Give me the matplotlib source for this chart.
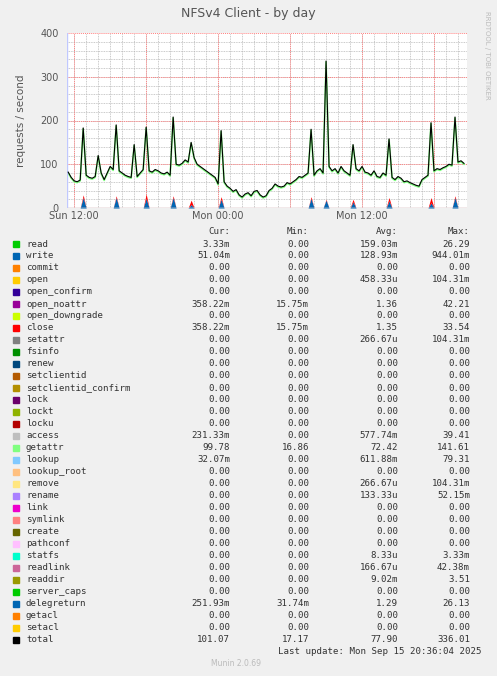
import matplotlib
matplotlib.use("Agg")
import matplotlib.pyplot as plt
import numpy as np

# total requests/s, one value every 15 min starting Sun 11:30
total = [82, 70, 62, 60, 64, 183, 75, 70, 68, 72, 120, 80, 65, 80, 95, 88,
         190, 85, 80, 75, 72, 70, 145, 72, 80, 88, 185, 85, 82, 88, 85, 80,
         78, 82, 75, 208, 100, 98, 102, 110, 105, 150, 115, 100, 95, 90, 85, 80,
         75, 70, 55, 177, 60, 50, 45, 38, 42, 30, 25, 32, 35, 28, 38, 40,
         30, 25, 28, 40, 45, 55, 50, 48, 50, 58, 55, 60, 65, 72, 70, 75,
         80, 180, 75, 85, 90, 80, 336, 95, 85, 90, 80, 95, 85, 80, 75, 145,
         90, 85, 95, 82, 80, 75, 85, 72, 70, 80, 75, 158, 70, 65, 72, 68,
         60, 62, 58, 55, 52, 50, 65, 70, 75, 195, 85, 90, 88, 92, 95, 100,
         98, 208, 105, 108, 102]
# small stacked series near the bottom (write/delegreturn, close)
spike_idx = [5, 16, 26, 35, 41, 51, 81, 86, 95, 107, 121, 129]
spike_write = [24, 24, 22, 24, 8, 20, 22, 18, 14, 16, 12, 24]
spike_close = [6, 4, 10, 4, 10, 6, 4, 2, 6, 8, 12, 4]

names = ["read", "write", "commit", "open", "open_confirm", "open_noattr", "open_downgrade",
         "close", "setattr", "fsinfo", "renew", "setclientid", "setclientid_confirm", "lock",
         "lockt", "locku", "access", "getattr", "lookup", "lookup_root", "remove", "rename",
         "link", "symlink", "create", "pathconf", "statfs", "readlink", "readdir",
         "server_caps", "delegreturn", "getacl", "setacl", "total"]
colors = ["#00CC00", "#0066B3", "#FF8000", "#FFCC00", "#330099", "#990099", "#CCFF00",
          "#FF0000", "#808080", "#008F00", "#00487D", "#B35A00", "#B38F00", "#6B006B",
          "#8FB300", "#B30000", "#BEBEBE", "#80FF80", "#80C9FF", "#FFC080", "#FFE680",
          "#AA80FF", "#EE00CC", "#FF8080", "#666600", "#FFBFFF", "#00FFCC", "#CC6699",
          "#999900", "#00CC00", "#0066B3", "#FF8000", "#FFCC00", "#000000"]
cur = ["3.33m", "51.04m", "0.00", "0.00", "0.00", "358.22m", "0.00", "358.22m", "0.00", "0.00",
       "0.00", "0.00", "0.00", "0.00", "0.00", "0.00", "231.33m", "99.78", "32.07m", "0.00",
       "0.00", "0.00", "0.00", "0.00", "0.00", "0.00", "0.00", "0.00", "0.00", "0.00",
       "251.93m", "0.00", "0.00", "101.07"]
mins = ["0.00", "0.00", "0.00", "0.00", "0.00", "15.75m", "0.00", "15.75m", "0.00", "0.00",
        "0.00", "0.00", "0.00", "0.00", "0.00", "0.00", "0.00", "16.86", "0.00", "0.00",
        "0.00", "0.00", "0.00", "0.00", "0.00", "0.00", "0.00", "0.00", "0.00", "0.00",
        "31.74m", "0.00", "0.00", "17.17"]
avgs = ["159.03m", "128.93m", "0.00", "458.33u", "0.00", "1.36", "0.00", "1.35", "266.67u", "0.00",
        "0.00", "0.00", "0.00", "0.00", "0.00", "0.00", "577.74m", "72.42", "611.88m", "0.00",
        "266.67u", "133.33u", "0.00", "0.00", "0.00", "0.00", "8.33u", "166.67u", "9.02m", "0.00",
        "1.29", "0.00", "0.00", "77.90"]
maxs = ["26.29", "944.01m", "0.00", "104.31m", "0.00", "42.21", "0.00", "33.54", "104.31m", "0.00",
        "0.00", "0.00", "0.00", "0.00", "0.00", "0.00", "39.41", "141.61", "79.31", "0.00",
        "104.31m", "52.15m", "0.00", "0.00", "0.00", "0.00", "3.33m", "42.38m", "3.51", "0.00",
        "26.13", "0.00", "0.00", "336.01"]

bg = "#F0F0F0"
fig = plt.figure(figsize=(4.97, 6.76), dpi=100, facecolor=bg)
W, H = 497, 676
ax = fig.add_axes([67 / W, (H - 208) / H, 400 / W, 175 / H], facecolor="white")

hours = -0.5 + 0.25 * np.arange(len(total))
tot = np.array(total, dtype=float)
write = np.zeros_like(tot)
close = np.zeros_like(tot)
for i, w, c in zip(spike_idx, spike_write, spike_close):
    write[i] = w
    close[i] = c
ax.fill_between(hours, 0, write, color="#0066B3", lw=0, zorder=2)
ax.fill_between(hours, write, write + close, color="#FF0000", lw=0, zorder=2)
ax.plot(hours, tot - 2, color="#80FF80", lw=1.2, zorder=2)
ax.plot(hours, tot, color="black", lw=0.8, zorder=3)
ax.axhline(0.5, color="#FFC080", lw=1, zorder=2)

ax.set_xlim(-0.6, 32.75)
ax.set_ylim(0, 400)
for h in np.arange(0, 33, 1):
    ax.axvline(h, color="#B8B8B8", lw=0.6, ls=(0, (1, 1)), zorder=0)
for y in range(20, 400, 20):
    ax.axhline(y, color="#B8B8B8", lw=0.6, ls=(0, (1, 1)), zorder=0)
for h in [0, 6, 12, 18, 24, 30]:
    ax.axvline(h, color="#FF8080", lw=0.7, ls=(0, (1, 1)), zorder=0.5)
for y in [100, 200, 300, 400]:
    ax.axhline(y, color="#FF8080", lw=0.7, ls=(0, (1, 1)), zorder=0.5)
for s in ax.spines.values():
    s.set_visible(False)
ax.axhline(0, color="#C0C8FF", lw=1)
ax.axvline(-0.6, color="#C0C8FF", lw=1)
ax.set_xticks([0, 12, 24], ["Sun 12:00", "Mon 00:00", "Mon 12:00"])
ax.set_yticks([0, 100, 200, 300, 400])
ax.tick_params(length=0, labelsize=7, colors="#555555")
ax.tick_params(axis="x", pad=2)
ax.tick_params(axis="y", pad=6)
ax.set_ylabel("requests / second", fontsize=7.5, color="#555555", labelpad=10)

fig.text(248 / W, 1 - 13 / H, "NFSv4 Client - by day", ha="center", va="center",
         fontsize=9, color="#555555")
fig.text(487 / W, 1 - 55 / H, "RRDTOOL / TOBI OETIKER", rotation=270, ha="center",
         va="center", fontsize=5, color="#BBBBBB")

mono = dict(family="DejaVu Sans Mono", fontsize=6.6, color="#333333", va="center")
for x, t in [(230, "Cur:"), (309, "Min:"), (398, "Avg:"), (470, "Max:")]:
    fig.text(x / W, 1 - 232 / H, t, ha="right", **mono)
for k, n in enumerate(names):
    y = 1 - (244 + k * 12) / H
    fig.patches.append(plt.Rectangle((13 / W, y - 3 / H), 6 / W, 6 / H, color=colors[k],
                                     transform=fig.transFigure, figure=fig))
    fig.text(26 / W, y, n, ha="left", **mono)
    fig.text(230 / W, y, cur[k], ha="right", **mono)
    fig.text(309 / W, y, mins[k], ha="right", **mono)
    fig.text(398 / W, y, avgs[k], ha="right", **mono)
    fig.text(470 / W, y, maxs[k], ha="right", **mono)
fig.text(482 / W, 1 - 652 / H, "Last update: Mon Sep 15 20:36:04 2025", ha="right", **mono)
fig.text(236 / W, 1 - 664 / H, "Munin 2.0.69", ha="center", va="center", fontsize=5.5,
         color="#BBBBBB")

fig.savefig("out.png", dpi=100, facecolor=bg)
